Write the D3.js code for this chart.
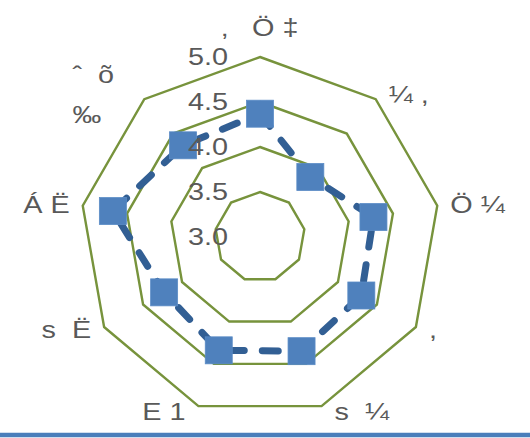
<!DOCTYPE html>
<html>
<head>
<meta charset="utf-8">
<script src="https://cdn.jsdelivr.net/npm/d3@7"></script>
<style>
  html, body { margin: 0; padding: 0; background: #fff; }
  svg { display: block; }
  text { font-family: "Liberation Sans", Arial, sans-serif; fill: #595959; white-space: pre; }
</style>
</head>
<body>
<svg id="chart" width="530" height="438"></svg>
<script>
// ---- data ----
const categories = ["\u201A   \u00D6 \u2021", "\u00BC ,", "\u00D6 \u00BC", ",", "s  \u00BC", "E 1", "s  \u00CB", "\u00C1 \u00CB", "\u02C6  \u00F5\n\u2030"];
const values = [4.37, 3.87, 4.28, 4.30, 4.35, 4.34, 4.23, 4.66, 4.33];
const ticks = [3.0, 3.5, 4.0, 4.5, 5.0];

// ---- layout ----
const W = 530, H = 438;
const cx = 260, cy = 237, R = 180;
const svg = d3.select("#chart");

const r = d3.scaleLinear().domain([3.0, 5.0]).range([0, R]);
const angle = d3.scaleLinear().domain([0, categories.length]).range([0, 2 * Math.PI]);
const pt = (i, v) => {
  const a = angle(i);
  return [cx + r(v) * Math.sin(a), cy - r(v) * Math.cos(a)];
};

const g = svg.append("g");

// grid rings (nonagons)
const ringLine = d3.line();
g.selectAll("path.ring")
  .data(ticks.filter(t => t > 3.0))
  .enter().append("path")
  .attr("class", "ring")
  .attr("d", t => ringLine(categories.map((c, i) => pt(i, t))) + "Z")
  .attr("fill", "none")
  .attr("stroke", "#77933c")
  .attr("stroke-width", 2.4)
  .attr("stroke-linejoin", "miter");

// series line
const seriesLine = d3.line().curve(d3.curveLinearClosed);
g.append("path")
  .attr("d", seriesLine(values.map((v, i) => pt(i, v))))
  .attr("fill", "none")
  .attr("stroke", "#325f94")
  .attr("stroke-width", 7)
  .attr("stroke-linecap", "round")
  .attr("stroke-dasharray", "16 18");

// markers
const ms = 27;
g.selectAll("rect.marker")
  .data(values)
  .enter().append("rect")
  .attr("class", "marker")
  .attr("x", (v, i) => pt(i, v)[0] - ms / 2)
  .attr("y", (v, i) => pt(i, v)[1] - ms / 2)
  .attr("width", ms)
  .attr("height", ms)
  .attr("fill", "#4f81bd")
  .attr("stroke", "#5b8cc6")
  .attr("stroke-width", 0.8);

// tick labels
const fs = 24, sx = 1.2;
g.selectAll("text.tick")
  .data(ticks)
  .enter().append("text")
  .attr("class", "tick")
  .attr("transform", t => `translate(228,${cy - r(t)}) scale(${sx},1)`)
  .attr("text-anchor", "end")
  .attr("dominant-baseline", "central")
  .attr("font-size", fs)
  .text(t => t.toFixed(1));

// category labels
categories.forEach((c, i) => {
  const a = angle(i);
  const s = Math.sin(a), co = Math.cos(a);
  const [vx, vy] = pt(i, 5.0);
  let x, y, anchor;
  if (Math.abs(s) < 0.01) {
    x = vx; y = vy - 29; anchor = "middle";
  } else {
    x = vx + 13 * Math.sign(s);
    y = vy - 6 * co;
    anchor = s > 0 ? "start" : "end";
  }
  const lines = c.split("\n");
  const lh = 40;
  const t = g.append("text")
    .attr("transform", `translate(${x},${y}) scale(${sx},1)`)
    .attr("font-size", fs)
    .attr("text-anchor", lines.length > 1 ? "start" : anchor)
    .attr("dominant-baseline", "central");
  lines.forEach((ln, k) => {
    t.append("tspan")
      .attr("x", lines.length > 1 ? -49 : 0)
      .attr("y", (k - (lines.length - 1) / 2) * lh)
      .text(ln);
  });
});

// bottom rule
svg.append("line")
  .attr("x1", 0).attr("x2", W)
  .attr("y1", 435).attr("y2", 435)
  .attr("stroke", "#4a7ebb")
  .attr("stroke-width", 4.5);
</script>
</body>
</html>
